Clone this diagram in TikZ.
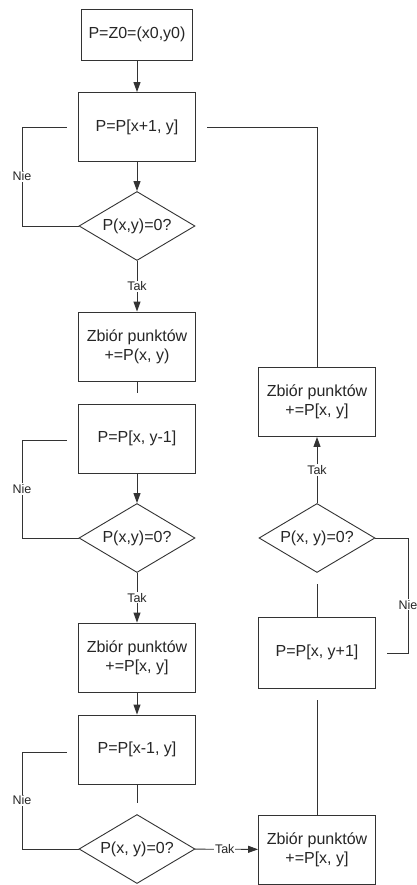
\documentclass[tikz,border=0pt]{standalone}
\usepackage{fontspec}
\setmainfont{Liberation Sans}
\usetikzlibrary{arrows.meta,shapes.geometric}
\begin{document}
\begin{tikzpicture}[x=1pt,y=-1pt,
  line width=0.9pt,
  box/.style={draw=black!80, rectangle, minimum width=117pt, minimum height=69pt,
    inner sep=0pt, align=center, text=black!85, font=\fontsize{16}{19}\selectfont},
  dec/.style={draw=black!80, diamond, aspect=1.7, minimum width=116pt, minimum height=69pt,
    inner sep=0pt, text=black!85, font=\fontsize{16}{19}\selectfont},
  lbl/.style={fill=white, inner sep=1pt, text=black!85, font=\fontsize{12.5}{14}\selectfont},
  link/.style={draw=black!80},
  flow/.style={link, -{Triangle[length=10pt,width=7pt]}}
]
\fill[white] (0,0) rectangle (416,885);
\useasboundingbox (0,0) rectangle (416,885);

% left column
\node[box, minimum width=111pt, minimum height=51pt] (b1) at (137,34.5) {P=Z0=(x0,y0)};
\node[box] (b2) at (137,127) {P=P[x+1, y]};
\node[dec] (d1) at (137,226) {P(x,y)=0?};
\node[box] (b3) at (137,346.5) {Zbiór punktów\\+=P(x, y)};
\node[box] (b4) at (137,438.5) {P=P[x, y-1]};
\node[dec] (d2) at (137,538) {P(x,y)=0?};
\node[box] (b5) at (137,657.5) {Zbiór punktów\\+=P[x, y]};
\node[box] (b6) at (137,749.5) {P=P[x-1, y]};
\node[dec] (d3) at (137,849) {P(x, y)=0?};

% right column
\node[box] (b7) at (317,849.5) {Zbiór punktów\\+=P[x, y]};
\node[box, minimum height=71pt] (b8) at (317,652.5) {P=P[x, y+1]};
\node[dec] (d4) at (317,538) {P(x, y)=0?};
\node[box] (b9) at (317,402) {Zbiór punktów\\+=P[x, y]};

% free ends of connectors
\coordinate (n1a) at (22,127);  \coordinate (n1b) at (67,127);
\coordinate (n2a) at (22,440);  \coordinate (n2b) at (67,440);
\coordinate (n3a) at (22,752);  \coordinate (n3b) at (67,752);
\coordinate (n4a) at (408,653); \coordinate (n4b) at (387,653);
\coordinate (s3) at (137,393);
\coordinate (s6) at (137,803);
\coordinate (s7) at (317,700);
\coordinate (s8) at (317,584);
\coordinate (r1) at (207,127);

% connectors
\draw[flow] (b1) -- (b2);
\draw[flow] (b2) -- (d1);
\draw[link] (d1.west) -| node[lbl, pos=0.75]{Nie} (n1a) -- (n1b);
\draw[flow] (d1) -- node[lbl]{Tak} (b3);
\draw[link] (b3) -- (s3);
\draw[flow] (b4) -- (d2);
\draw[link] (d2.west) -| node[lbl, pos=0.75]{Nie} (n2a) -- (n2b);
\draw[flow] (d2) -- node[lbl]{Tak} (b5);
\draw[flow] (b5) -- (b6);
\draw[link] (b6) -- (s6);
\draw[link] (d3.west) -| node[lbl, pos=0.75]{Nie} (n3a) -- (n3b);
\draw[flow] (d3) -- node[lbl, pos=0.47]{Tak} (b7);
\draw[link] (b7) -- (s7);
\draw[link] (b8) -- (s8);
\draw[link] (d4.east) -| node[lbl, pos=0.79]{Nie} (n4a) -- (n4b);
\draw[flow] (d4) -- node[lbl]{Tak} (b9);
\draw[link] (b9.north) |- (r1);
\end{tikzpicture}
\end{document}
